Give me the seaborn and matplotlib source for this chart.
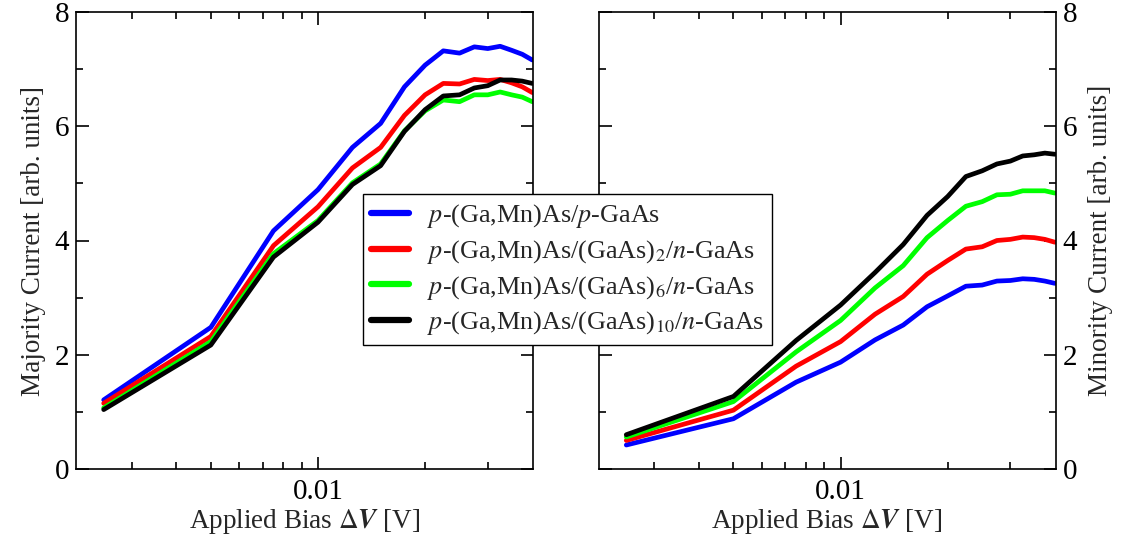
import numpy as np
import pandas as pd
import matplotlib
matplotlib.use("Agg")
import matplotlib.pyplot as plt
from matplotlib.ticker import FixedLocator, NullFormatter, FixedFormatter
from matplotlib.lines import Line2D
import seaborn as sns

# ---- data ----
bias = [0.0025, 0.005, 0.0075, 0.01, 0.0125, 0.015, 0.0175, 0.02,
        0.0225, 0.025, 0.0275, 0.03, 0.0325, 0.035, 0.0375, 0.04]

series_names = [r"$p$-(Ga,Mn)As/$p$-GaAs",
                r"$p$-(Ga,Mn)As/(GaAs)$_2$/$n$-GaAs",
                r"$p$-(Ga,Mn)As/(GaAs)$_6$/$n$-GaAs",
                r"$p$-(Ga,Mn)As/(GaAs)$_{10}$/$n$-GaAs"]

maj_p = [1.21, 2.48, 4.17, 4.89, 5.63, 6.05, 6.69, 7.07, 7.32, 7.28, 7.39, 7.36, 7.40, 7.33, 7.26, 7.16]
maj_n2 = [1.15, 2.32, 3.91, 4.59, 5.27, 5.63, 6.19, 6.55, 6.75, 6.74, 6.82, 6.80, 6.82, 6.76, 6.69, 6.59]
maj_n6 = [1.07, 2.23, 3.77, 4.35, 5.01, 5.34, 5.92, 6.27, 6.46, 6.43, 6.55, 6.55, 6.60, 6.55, 6.51, 6.43]
maj_n10 = [1.04, 2.17, 3.71, 4.32, 4.98, 5.31, 5.91, 6.29, 6.53, 6.55, 6.67, 6.71, 6.81, 6.81, 6.79, 6.75]

min_p = [0.42, 0.88, 1.52, 1.87, 2.26, 2.52, 2.84, 3.03, 3.20, 3.22, 3.29, 3.30, 3.33, 3.32, 3.29, 3.25]
min_n2 = [0.50, 1.03, 1.80, 2.23, 2.71, 3.02, 3.41, 3.65, 3.85, 3.89, 4.00, 4.02, 4.06, 4.05, 4.02, 3.97]
min_n6 = [0.56, 1.18, 2.05, 2.60, 3.17, 3.56, 4.05, 4.35, 4.60, 4.68, 4.80, 4.81, 4.87, 4.87, 4.87, 4.83]
min_n10 = [0.60, 1.27, 2.25, 2.87, 3.44, 3.93, 4.44, 4.77, 5.12, 5.22, 5.34, 5.39, 5.48, 5.50, 5.53, 5.51]

colors = ["#0000ff", "#ff0000", "#00ff00", "#000000"]

def long_df(values):
    rows = []
    for name, vals in zip(series_names, values):
        for x, y in zip(bias, vals):
            rows.append({"bias": x, "current": y, "series": name})
    return pd.DataFrame(rows)

df_maj = long_df([maj_p, maj_n2, maj_n6, maj_n10])
df_min = long_df([min_p, min_n2, min_n6, min_n10])

sns.set_style("ticks")
plt.rcParams["font.family"] = ["Liberation Serif", "DejaVu Serif"]
plt.rcParams["mathtext.fontset"] = "stix"
plt.rcParams["axes.linewidth"] = 1.2

fig = plt.figure(figsize=(11.25, 5.41), dpi=100)
W, H = 1125, 541
ax1 = fig.add_axes([76 / W, 1 - 469 / H, 457 / W, 457 / H])
ax2 = fig.add_axes([598.6 / W, 1 - 469 / H, 457 / W, 457 / H])

palette = dict(zip(series_names, colors))
for ax, df in [(ax1, df_maj), (ax2, df_min)]:
    sns.lineplot(data=df, x="bias", y="current", hue="series", palette=palette,
                 hue_order=series_names, linewidth=3.4, ax=ax, legend=False,
                 estimator=None, sort=False)
    ax.set_xscale("log")
    ax.set_xlim(0.00209, 0.0402)
    ax.set_ylim(0, 8)
    ax.xaxis.set_major_locator(FixedLocator([0.01]))
    ax.xaxis.set_major_formatter(FixedFormatter(["0.01"]))
    ax.xaxis.set_minor_locator(FixedLocator([0.003, 0.004, 0.005, 0.006, 0.007, 0.008, 0.009, 0.02, 0.03]))
    ax.xaxis.set_minor_formatter(NullFormatter())
    ax.yaxis.set_major_locator(FixedLocator([0, 2, 4, 6, 8]))
    ax.yaxis.set_minor_locator(FixedLocator([1, 3, 5, 7]))
    ax.tick_params(which="both", direction="in", top=True, bottom=True, left=True, right=True,
                   width=1.2, labelsize=21, colors="black")
    ax.tick_params(which="major", length=9)
    ax.tick_params(which="minor", length=5)
    ax.tick_params(axis="x", which="major", pad=7)
    ax.set_xlabel(r"Applied Bias $\Delta\mathbfit{V}$ [V]", fontsize=19.5, labelpad=2)
    for s in ax.spines.values():
        s.set_visible(True)
        s.set_color("black")

ax1.set_ylabel("Majority Current [arb. units]", fontsize=19.5, labelpad=6)
ax1.tick_params(axis="y", labelleft=True, labelright=False, pad=5)
ax2.yaxis.set_label_position("right")
ax2.set_ylabel("Minority Current [arb. units]", fontsize=19.5, labelpad=8)
ax2.tick_params(axis="y", labelleft=False, labelright=True, pad=5)

handles = [Line2D([], [], color=c, linewidth=4.5) for c in colors]
leg = fig.legend(handles, series_names, loc="upper left",
                 bbox_to_anchor=(363 / W, 1 - 194 / H), fontsize=18.8,
                 frameon=True, fancybox=False, framealpha=1, edgecolor="black",
                 handlelength=1.45, handletextpad=0.7, labelspacing=0.3,
                 borderpad=0.3, borderaxespad=0)
leg.get_frame().set_linewidth(1.0)
leg.set_zorder(10)

fig.savefig("out.png", dpi=100)
